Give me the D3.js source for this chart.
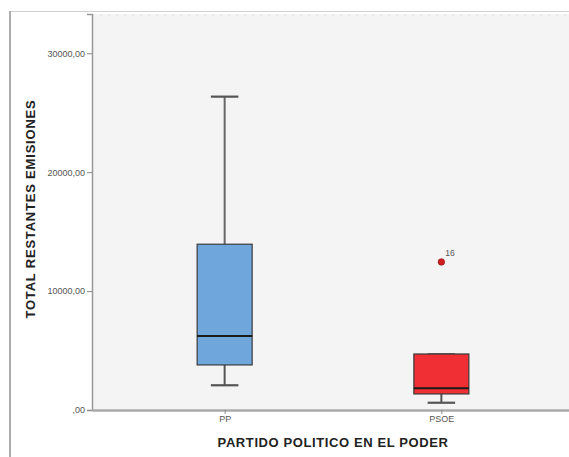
<!DOCTYPE html>
<html><head><meta charset="utf-8">
<script src="https://cdn.jsdelivr.net/npm/d3@7"></script>
<style>body{margin:0;background:#fff}svg{display:block}</style>
</head><body><svg id="c" width="569" height="457"></svg>
<script>
const categories = ["PP", "PSOE"];
const whiskerLow = [2080, 610];
const q1 = [3790, 1350];
const median = [6220, 1830];
const q3 = [13940, 4710];
const whiskerHigh = [26350, 4680];
const outliers = [[], [{ value: 12450, label: "16" }]];
const yTicks = [0, 10000, 20000, 30000];
const tickLabels = [",00", "10000,00", "20000,00", "30000,00"];
const fills = ["#6fa7dd", "#ef2f34"];
const yTitle = "TOTAL RESTANTES EMISIONES";
const xTitle = "PARTIDO POLITICO EN EL PODER";

(function () {
const svg = d3.select("#c");
const pLeft = 92, pBottom = 410, pTop = 14, pRight = 574;
const font = "Arial, 'Liberation Sans', sans-serif";

// outer frame
svg.append("rect").attr("x", 10).attr("y", 11.5).attr("width", 600).attr("height", 500)
  .attr("fill", "#fff").attr("stroke", "#d0d0d0");
svg.append("line").attr("x1", 10).attr("x2", 10).attr("y1", 11).attr("y2", 457)
  .attr("stroke", "#9a9a9a").attr("stroke-width", 1.5);

// plot bg
svg.append("rect").attr("x", pLeft).attr("y", pTop).attr("width", pRight - pLeft).attr("height", pBottom - pTop)
  .attr("fill", "#f4f4f4");
svg.append("line").attr("x1", pLeft).attr("x2", pRight).attr("y1", pTop + 1).attr("y2", pTop + 1)
  .attr("stroke", "#e2e2e2").attr("stroke-dasharray", "2,6");

const y = d3.scaleLinear().domain([0, 33300]).range([pBottom, pTop]);
const x = d3.scalePoint().domain(categories).range([pLeft, pRight]).padding(0.612);

// y axis
const yAxis = d3.axisLeft(y).tickValues(yTicks).tickSize(5)
  .tickFormat((d, i) => tickLabels[i]);
const ga = svg.append("g").attr("transform", `translate(${pLeft},0)`).call(yAxis);
ga.select(".domain").attr("stroke", "#999").attr("stroke-width", 1.5);
ga.selectAll(".tick line").attr("stroke", "#888");
ga.selectAll(".tick text").attr("font-family", font)
  .attr("font-size", 9).attr("fill", "#555").attr("x", -7);

// x axis
const xAxis = d3.axisBottom(x).tickSize(4).tickSizeOuter(0);
const gx = svg.append("g").attr("transform", `translate(0,${pBottom})`).call(xAxis);
gx.select(".domain").attr("stroke", "#aaa").attr("stroke-width", 2.5);
gx.selectAll(".tick line").attr("stroke", "#888");
gx.selectAll(".tick text").attr("font-family", font)
  .attr("font-size", 9).attr("fill", "#555").attr("y", 6);

// boxes
const bw = 55;
categories.forEach((c, i) => {
  const cx = x(c);
  const g = svg.append("g");
  g.append("line").attr("x1", cx).attr("x2", cx).attr("y1", y(whiskerHigh[i])).attr("y2", y(q3[i]))
    .attr("stroke", "#666").attr("stroke-width", 2);
  g.append("line").attr("x1", cx).attr("x2", cx).attr("y1", y(q1[i])).attr("y2", y(whiskerLow[i]))
    .attr("stroke", "#555").attr("stroke-width", 2);
  [whiskerHigh[i], whiskerLow[i]].forEach(v => {
    g.append("line").attr("x1", cx - bw / 4).attr("x2", cx + bw / 4).attr("y1", y(v)).attr("y2", y(v))
      .attr("stroke", "#555").attr("stroke-width", 2.2);
  });
  g.append("rect").attr("x", cx - bw / 2).attr("width", bw)
    .attr("y", y(q3[i])).attr("height", y(q1[i]) - y(q3[i]))
    .attr("fill", fills[i]).attr("stroke", "#3a3a3a").attr("stroke-width", 1.2);
  g.append("line").attr("x1", cx - bw / 2).attr("x2", cx + bw / 2).attr("y1", y(median[i])).attr("y2", y(median[i]))
    .attr("stroke", "#1a1a1a").attr("stroke-width", 2);
  outliers[i].forEach(o => {
    g.append("circle").attr("cx", cx).attr("cy", y(o.value)).attr("r", 3.3)
      .attr("fill", "#d11f1f").attr("stroke", "#7a1010").attr("stroke-width", 0.6);
    g.append("text").attr("x", cx + 4).attr("y", y(o.value) - 6).text(o.label)
      .attr("font-family", font).attr("font-size", 8.5).attr("fill", "#555");
  });
});

// titles
svg.append("text").attr("x", 333).attr("y", 447).attr("text-anchor", "middle")
  .attr("font-family", font).attr("font-weight", "bold").attr("letter-spacing", 0.6)
  .attr("font-size", 13).attr("fill", "#222").text(xTitle);
svg.append("text").attr("transform", "translate(35,209) rotate(-90)").attr("text-anchor", "middle")
  .attr("font-family", font).attr("font-weight", "bold").attr("letter-spacing", 0.8)
  .attr("font-size", 13).attr("fill", "#222").text(yTitle);
})();
</script></body></html>
